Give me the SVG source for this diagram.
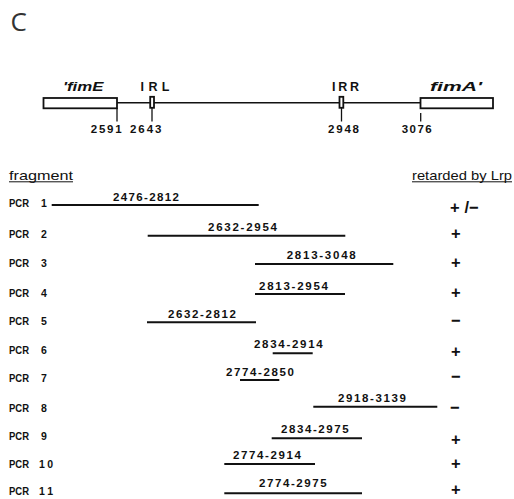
<svg xmlns="http://www.w3.org/2000/svg" width="514" height="499" viewBox="0 0 514 499">
<style>
.t{font-family:"Liberation Sans",Arial,sans-serif;font-weight:bold;fill:#111;}
.n{font-size:11.5px;}
.p{font-size:10.5px;}
.g{font-size:12px;font-style:italic;}
.ir{font-size:12.5px;}
.h{font-family:"Liberation Sans",Arial,sans-serif;font-size:13px;fill:#111;}
.s{font-family:"Liberation Sans",Arial,sans-serif;font-weight:bold;font-size:16.5px;fill:#111;}
.frag{stroke:#111;stroke-width:2;fill:none;}
.box{stroke:#111;stroke-width:1.8;fill:#fff;}
.tick{stroke:#111;stroke-width:1.3;}
</style>
<rect width="514" height="499" fill="#fff"/>
<text x="10.5" y="30.5" style="font-family:'Open Sans',sans-serif;font-size:26px;fill:#333">C</text>

<g id="map">
  <line x1="117" y1="102.7" x2="420" y2="102.7" stroke="#111" stroke-width="1.6"/>
  <g id="fimE"><rect class="box" x="43.5" y="98" width="73.5" height="10.3"/><text class="t g" x="63" y="90.5" textLength="40.5" lengthAdjust="spacingAndGlyphs">'fimE</text></g>
  <g id="IRL"><rect class="box" x="150.2" y="96.8" width="3.8" height="11" stroke-width="1.2"/><text class="t ir" x="140.5" y="90.5" textLength="29" lengthAdjust="spacing">IRL</text></g>
  <g id="IRR"><rect class="box" x="339.5" y="96.8" width="3.8" height="11" stroke-width="1.2"/><text class="t ir" x="332" y="90.5" textLength="27" lengthAdjust="spacing">IRR</text></g>
  <g id="fimA"><rect class="box" x="420.5" y="98" width="72.5" height="10.3"/><text class="t g" x="430" y="90.5" textLength="52" lengthAdjust="spacingAndGlyphs">fimA'</text></g>
  <line class="tick" x1="117" y1="108" x2="117" y2="121.5"/>
  <line class="tick" x1="152" y1="108" x2="152" y2="121.5"/>
  <line class="tick" x1="341.5" y1="108" x2="341.5" y2="121.5"/>
  <line class="tick" x1="420.7" y1="113" x2="420.7" y2="121.5"/>
  <text class="t n" x="90.7" y="132.5" textLength="31" lengthAdjust="spacing">2591</text>
  <text class="t n" x="130" y="132.5" textLength="31.5" lengthAdjust="spacing">2643</text>
  <text class="t n" x="328" y="132.5" textLength="31" lengthAdjust="spacing">2948</text>
  <text class="t n" x="401.7" y="132.5" textLength="30" lengthAdjust="spacing">3076</text>
</g>

<g id="headers">
  <text class="h" x="9" y="179.5" textLength="64" lengthAdjust="spacingAndGlyphs">fragment</text>
  <line x1="9" y1="181.8" x2="73" y2="181.8" stroke="#111" stroke-width="1"/>
  <text class="h" x="412" y="179.5" textLength="100" lengthAdjust="spacingAndGlyphs">retarded by Lrp</text>
  <line x1="412" y1="181.8" x2="512" y2="181.8" stroke="#111" stroke-width="1"/>
</g>

<g id="connectors">
  <line class="frag" x1="51.7" y1="205" x2="258.7" y2="205"/>
  <line class="frag" x1="147.7" y1="235.7" x2="345.3" y2="235.7"/>
  <line class="frag" x1="255" y1="264" x2="393.3" y2="264"/>
  <line class="frag" x1="255" y1="294" x2="345" y2="294"/>
  <line class="frag" x1="147" y1="322.3" x2="256" y2="322.3"/>
  <line class="frag" x1="272.7" y1="353.3" x2="312.7" y2="353.3"/>
  <line class="frag" x1="240" y1="380" x2="279.3" y2="380"/>
  <line class="frag" x1="313.3" y1="406.7" x2="437.3" y2="406.7"/>
  <line class="frag" x1="271.7" y1="438.3" x2="362" y2="438.3"/>
  <line class="frag" x1="224.3" y1="464" x2="315" y2="464"/>
  <line class="frag" x1="224.3" y1="493.3" x2="362" y2="493.3"/>
</g>

<g id="pcr1"><text class="t p" x="9" y="207" textLength="20" lengthAdjust="spacingAndGlyphs">PCR</text><text class="t p" x="41" y="207">1</text><text class="t n" x="113" y="200.7" textLength="66" lengthAdjust="spacing">2476-2812</text><text class="s" y="212.5"><tspan x="450">+</tspan><tspan x="464.5">/−</tspan></text></g>
<g id="pcr2"><text class="t p" x="9" y="238.3" textLength="20" lengthAdjust="spacingAndGlyphs">PCR</text><text class="t p" x="41" y="238.3">2</text><text class="t n" x="208" y="230.7" textLength="69" lengthAdjust="spacing">2632-2954</text><text class="s" x="451" y="238.5">+</text></g>
<g id="pcr3"><text class="t p" x="9" y="267" textLength="20" lengthAdjust="spacingAndGlyphs">PCR</text><text class="t p" x="41" y="267">3</text><text class="t n" x="286.7" y="259.3" textLength="69" lengthAdjust="spacing">2813-3048</text><text class="s" x="451" y="267.8">+</text></g>
<g id="pcr4"><text class="t p" x="9" y="297" textLength="20" lengthAdjust="spacingAndGlyphs">PCR</text><text class="t p" x="41" y="297">4</text><text class="t n" x="259" y="290" textLength="69" lengthAdjust="spacing">2813-2954</text><text class="s" x="451" y="297.8">+</text></g>
<g id="pcr5"><text class="t p" x="9" y="325.3" textLength="20" lengthAdjust="spacingAndGlyphs">PCR</text><text class="t p" x="41" y="325.3">5</text><text class="t n" x="168" y="317.7" textLength="68" lengthAdjust="spacing">2632-2812</text><text class="s" x="451" y="326">−</text></g>
<g id="pcr6"><text class="t p" x="9" y="353.6" textLength="20" lengthAdjust="spacingAndGlyphs">PCR</text><text class="t p" x="41" y="353.6">6</text><text class="t n" x="254" y="348" textLength="68.7" lengthAdjust="spacing">2834-2914</text><text class="s" x="451" y="356.8">+</text></g>
<g id="pcr7"><text class="t p" x="9" y="382" textLength="20" lengthAdjust="spacingAndGlyphs">PCR</text><text class="t p" x="41" y="382">7</text><text class="t n" x="226" y="376" textLength="68" lengthAdjust="spacing">2774-2850</text><text class="s" x="451" y="382">−</text></g>
<g id="pcr8"><text class="t p" x="9" y="412" textLength="20" lengthAdjust="spacingAndGlyphs">PCR</text><text class="t p" x="41" y="412">8</text><text class="t n" x="338" y="401.7" textLength="68" lengthAdjust="spacing">2918-3139</text><text class="s" x="450" y="413">−</text></g>
<g id="pcr9"><text class="t p" x="9" y="440.3" textLength="20" lengthAdjust="spacingAndGlyphs">PCR</text><text class="t p" x="41" y="440.3">9</text><text class="t n" x="281" y="432.7" textLength="67.7" lengthAdjust="spacing">2834-2975</text><text class="s" x="451" y="444.5">+</text></g>
<g id="pcr10"><text class="t p" x="9" y="467.6" textLength="20" lengthAdjust="spacingAndGlyphs">PCR</text><text class="t p" x="39" y="467.6" textLength="14" lengthAdjust="spacing">10</text><text class="t n" x="233" y="459" textLength="68" lengthAdjust="spacing">2774-2914</text><text class="s" x="451" y="468.5">+</text></g>
<g id="pcr11"><text class="t p" x="9" y="495.3" textLength="20" lengthAdjust="spacingAndGlyphs">PCR</text><text class="t p" x="39" y="495.3" textLength="14" lengthAdjust="spacing">11</text><text class="t n" x="259" y="487.3" textLength="67.7" lengthAdjust="spacing">2774-2975</text><text class="s" x="451" y="495.2">+</text></g>
</svg>
